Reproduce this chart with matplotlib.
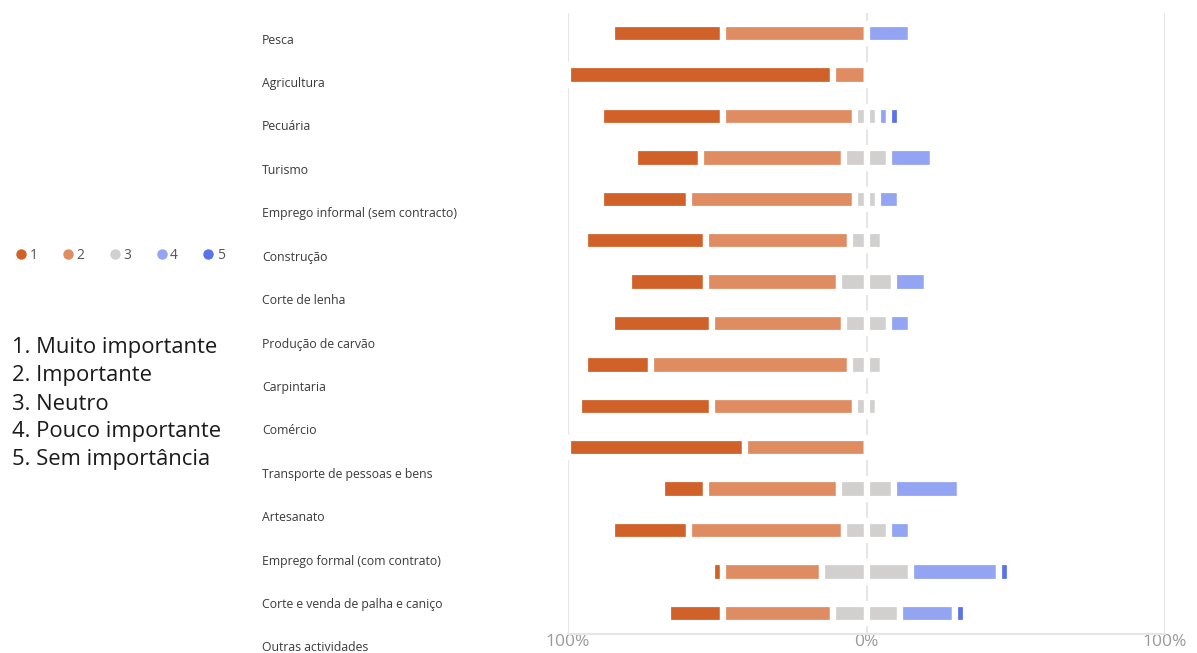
import numpy as np
import matplotlib
matplotlib.use("Agg")
import matplotlib.pyplot as plt
from matplotlib.lines import Line2D

plt.rcParams["font.family"] = ["Open Sans", "DejaVu Sans"]

activities = ["Pesca", "Agricultura", "Pecuária", "Turismo",
              "Emprego informal (sem contracto)", "Construção", "Corte de lenha",
              "Produção de carvão", "Carpintaria", "Comércio",
              "Transporte de pessoas e bens", "Artesanato",
              "Emprego formal (com contrato)", "Corte e venda de palha e caniço",
              "Outras actividades"]

# share of answers (%) per importance level
muito_importante = np.array([37.0, 88.9, 40.7, 22.2, 29.6, 40.7, 25.9, 33.3, 22.2, 44.4, 59.3, 14.8, 25.9, 3.7, 18.5])
importante = np.array([48.1, 11.1, 44.4, 48.1, 55.6, 48.1, 44.4, 44.4, 66.7, 48.1, 40.7, 44.4, 51.9, 33.3, 37.0])
neutro = np.array([0.0, 0.0, 7.4, 14.8, 7.4, 11.1, 18.5, 14.8, 11.1, 7.4, 0.0, 18.5, 14.8, 29.6, 22.2])
pouco_importante = np.array([14.8, 0.0, 3.7, 14.8, 7.4, 0.0, 11.1, 7.4, 0.0, 0.0, 0.0, 22.2, 7.4, 29.6, 18.5])
sem_importancia = np.array([0.0, 0.0, 3.7, 0.0, 0.0, 0.0, 0.0, 0.0, 0.0, 0.0, 0.0, 0.0, 0.0, 3.7, 3.7])

levels = ["1", "2", "3", "4", "5"]
scale_labels = ["1. Muito importante", "2. Importante", "3. Neutro",
                "4. Pouco importante", "5. Sem importância"]
tick_labels = ["100%", "0%", "100%"]

colors = ["#D06128", "#E08C63", "#D1D0CE", "#92A4F2", "#5A73E6"]

W, H = 1197, 653
fig = plt.figure(figsize=(W / 100, H / 100), dpi=100)

ax = fig.add_axes([568 / W, 1 - 634 / H, 597 / W, 621 / H])
y = np.arange(len(activities))
half = neutro / 2
start = -(muito_importante + importante + half)

bar_kw = dict(height=0.47, edgecolor="white", linewidth=4.5)
ax.barh(y, muito_importante, left=start, color=colors[0], **bar_kw)
ax.barh(y, importante, left=start + muito_importante, color=colors[1], **bar_kw)
ax.barh(y, half, left=-half, color=colors[2], **bar_kw)
ax.barh(y, half, left=0, color=colors[2], **bar_kw)
ax.barh(y, pouco_importante, left=half, color=colors[3], **bar_kw)
ax.barh(y, sem_importancia, left=half + pouco_importante, color=colors[4], **bar_kw)

ax.set_xlim(-100, 100)
ax.set_ylim(len(activities) - 0.5, -0.5)
ax.set_xticks([-100, 0, 100])
ax.set_xticklabels(tick_labels)
ax.set_yticks([])
ax.xaxis.grid(True, color="#e6e6e6", linewidth=1.5)
ax.set_axisbelow(True)
ax.tick_params(axis="x", length=0, labelsize=12.5, labelcolor="#9a9a9a", pad=0)
for side in ["top", "left", "right"]:
    ax.spines[side].set_visible(False)
ax.spines["bottom"].set_color("#e6e6e6")
ax.spines["bottom"].set_linewidth(1.5)

# category labels (spaced a bit wider than the bars, as in the source)
lab = fig.add_axes([262 / W, 1 - 669.7 / H, 290 / W, 651.4 / H])
lab.set_xlim(0, 1)
lab.set_ylim(len(activities) - 0.5, -0.5)
lab.axis("off")
for i, name in enumerate(activities):
    lab.text(0, i, name, ha="left", va="center", fontsize=8.8, color="#3a3a3a")

handles = [Line2D([], [], marker="o", linestyle="", color=c, markersize=6.5) for c in colors]
fig.legend(handles, levels, loc="center left", bbox_to_anchor=(6 / W, 1 - 255 / H),
           ncol=5, frameon=False, fontsize=10, labelcolor="#555555",
           handlelength=0.6, handletextpad=0.3, columnspacing=1.9, borderpad=0.3)

for i, line in enumerate(scale_labels):
    fig.text(12 / W, 1 - (348 + 28 * i) / H, line, ha="left", va="center",
             fontsize=15.8, color="#1a1a1a")

fig.savefig("out.png", dpi=100)
